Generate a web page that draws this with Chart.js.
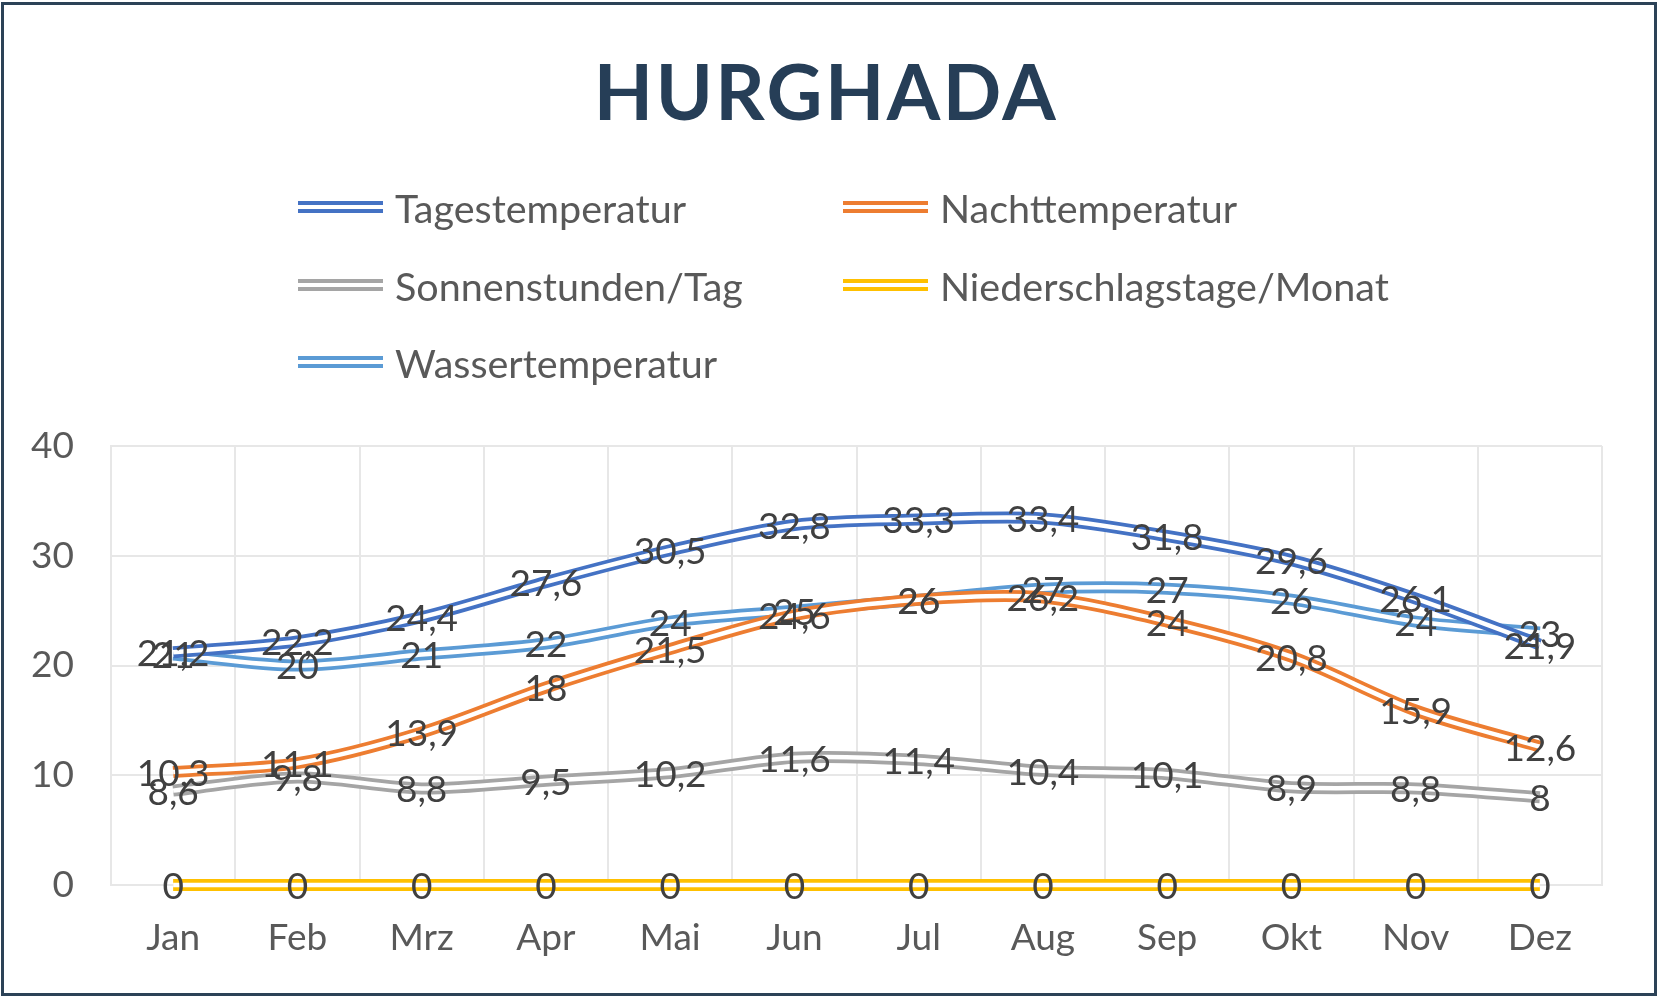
<!DOCTYPE html>
<html>
<head>
<meta charset="utf-8">
<script src="https://cdn.jsdelivr.net/npm/chart.js@4/dist/chart.umd.min.js"></script>
<style>
  html, body { margin: 0; padding: 0; background: #fff; }
  #wrap { position: relative; width: 1659px; height: 999px; overflow: hidden; font-family: Lato, sans-serif; }
  #frame { position: absolute; left: 1px; top: 2px; width: 1650px; height: 988px; border: 3px solid #2c4257; pointer-events: none; }
  #title { position: absolute; left: 0; width: 1652px; top: 40px; text-align: center; font-weight: 700; font-size: 77px; letter-spacing: 2.5px; color: #263e57; line-height: 100px; }
  .item { position: absolute; height: 50px; display: flex; align-items: center; font-size: 39.5px; color: #595959; }
  .swatch { width: 85px; height: 4px; border-top: 4px solid; border-bottom: 4px solid; margin-right: 12px; }
  canvas { position: absolute; left: 0; top: 0; }
</style>
</head>
<body>
<div id="wrap">
  <canvas id="hurghada" width="1659" height="999"></canvas>
  <div id="title">HURGHADA</div>
  <div id="legend"></div>
  <div id="frame"></div>
</div>
<script>
const months = ['Jan', 'Feb', 'Mrz', 'Apr', 'Mai', 'Jun', 'Jul', 'Aug', 'Sep', 'Okt', 'Nov', 'Dez'];
const tagestemperatur = [21.2, 22.2, 24.4, 27.6, 30.5, 32.8, 33.3, 33.4, 31.8, 29.6, 26.1, 21.9];
const nachttemperatur = [10.3, 11.1, 13.9, 18, 21.5, 24.6, 26, 26.2, 24, 20.8, 15.9, 12.6];
const sonnenstunden = [8.6, 9.8, 8.8, 9.5, 10.2, 11.6, 11.4, 10.4, 10.1, 8.9, 8.8, 8];
const niederschlagstage = [0, 0, 0, 0, 0, 0, 0, 0, 0, 0, 0, 0];
const wassertemperatur = [21, 20, 21, 22, 24, 25, 26, 27, 27, 26, 24, 23];
const yTicks = [0, 10, 20, 30, 40];

const series = [
    { label: 'Tagestemperatur', data: tagestemperatur, color: '#4472c4' },
    { label: 'Nachttemperatur', data: nachttemperatur, color: '#ed7d31' },
    { label: 'Sonnenstunden/Tag', data: sonnenstunden, color: '#a5a5a5' },
    { label: 'Niederschlagstage/Monat', data: niederschlagstage, color: '#ffc000' },
    { label: 'Wassertemperatur', data: wassertemperatur, color: '#5b9bd5' },
];

// legend in two columns, like the Excel original
const legendPos = [[298, 207], [843, 207], [298, 285], [843, 285], [298, 362]];
const legend = document.getElementById('legend');
series.forEach((s, i) => {
    const item = document.createElement('div');
    item.className = 'item';
    item.style.left = legendPos[i][0] + 'px';
    item.style.top = (legendPos[i][1] - 25) + 'px';
    item.innerHTML = '<div class="swatch" style="border-color:' + s.color + '"></div><span>' + s.label + '</span>';
    legend.appendChild(item);
});

// white stripe down the middle of each line -> double line
const doubleLine = {
    id: 'doubleLine',
    afterDatasetDraw(chart, args) {
        const line = args.meta.dataset;
        if (!line) return;
        const ctx = chart.ctx;
        ctx.save();
        ctx.beginPath();
        line.path(ctx);
        ctx.lineWidth = 4.5;
        ctx.strokeStyle = '#ffffff';
        ctx.lineJoin = 'round';
        ctx.stroke();
        ctx.restore();
    }
};

const valueLabels = {
    id: 'valueLabels',
    afterDatasetsDraw(chart) {
        const ctx = chart.ctx;
        ctx.save();
        ctx.font = '37px Lato';
        ctx.fillStyle = '#404040';
        ctx.textAlign = 'center';
        ctx.textBaseline = 'middle';
        chart.data.datasets.forEach((ds, i) => {
            const meta = chart.getDatasetMeta(i);
            meta.data.forEach((pt, j) => {
                ctx.fillText(String(ds.data[j]).replace('.', ','), pt.x, pt.y + 2);
            });
        });
        ctx.restore();
    }
};

Chart.defaults.font.family = 'Lato';

new Chart(document.getElementById('hurghada'), {
    type: 'line',
    data: {
        labels: months,
        datasets: series.map(s => ({
            label: s.label,
            data: s.data,
            borderColor: s.color,
            backgroundColor: s.color,
            borderWidth: 12,
            tension: 0.3,
            pointRadius: 0,
            clip: false,
        }))
    },
    options: {
        responsive: false,
        animation: false,
        layout: { padding: { top: 446, right: 57, bottom: 0, left: 0 } },
        plugins: {
            legend: { display: false },
            tooltip: { enabled: false },
            title: { display: false }
        },
        scales: {
            x: {
                offset: true,
                grid: { offset: true, color: '#e7e7e7', lineWidth: 2, drawTicks: false },
                border: { color: '#e7e7e7', width: 2 },
                ticks: { color: '#595959', font: { size: 37 }, padding: 31 },
                afterFit(scale) { scale.height = 114; }
            },
            y: {
                min: 0,
                max: 40,
                afterBuildTicks(scale) { scale.ticks = yTicks.map(v => ({ value: v })); },
                grid: { color: '#e7e7e7', lineWidth: 2, drawTicks: false },
                border: { color: '#e7e7e7', width: 2 },
                ticks: { color: '#595959', font: { size: 37 }, padding: 37 },
                afterFit(scale) { scale.width = 111; }
            }
        }
    },
    plugins: [doubleLine, valueLabels]
});
</script>
</body>
</html>
